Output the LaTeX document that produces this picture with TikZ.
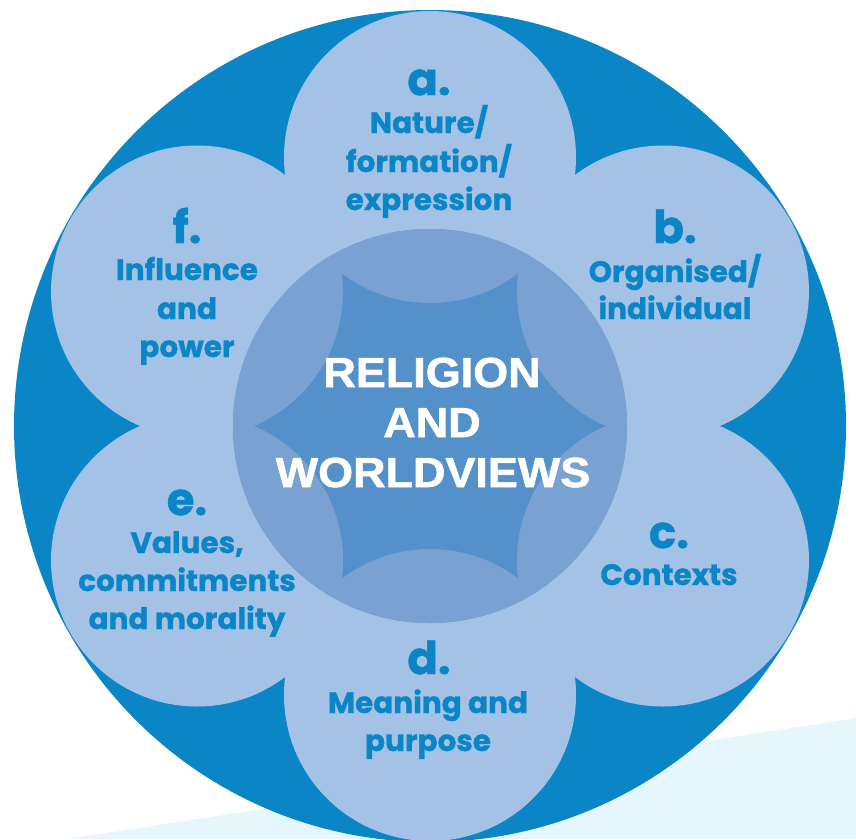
\documentclass[tikz,border=0pt]{standalone}
\usepackage{fontspec}
\newfontfamily\petalfont{Poppins}[UprightFont=* Bold, BoldFont=* Bold, FakeBold=1]
\newfontfamily\hubfont{Liberation Sans Bold}[FakeStretch=1.07, FakeBold=1.5]
\definecolor{ringblue}{HTML}{0A85C6}
\definecolor{petalblue}{HTML}{A3C2E5}
\definecolor{overlapblue}{HTML}{79A2D3}
\definecolor{starblue}{HTML}{5490C9}
\definecolor{paleblue}{HTML}{E6F6FD}
\tikzset{
  letterlbl/.style={anchor=base, inner sep=0pt, text=ringblue, font=\petalfont\fontsize{45}{45}\selectfont},
  petaltxt/.style={anchor=base, inner sep=0pt, text=ringblue, font=\petalfont\fontsize{29.5}{29.5}\selectfont},
  hubtxt/.style={anchor=base, inner sep=0pt, text=white, font=\hubfont\fontsize{42}{42}\selectfont},
}
\begin{document}
\begin{tikzpicture}[x=1pt,y=-1pt]
\useasboundingbox (0,0) rectangle (856,839);
\fill[paleblue] (67,839) -- (856,718) -- (856,839) -- cycle;
\coordinate (hub) at (430,426);
\fill[ringblue] (hub) circle[radius=416pt];
\foreach \k/\a in {a/90,b/30,c/-30,d/-90,e/-150,f/150}
  \coordinate (p\k) at ({430+269*cos(\a)},{426-269*sin(\a)});
\foreach \k in {a,b,c,d,e,f}
  \fill[petalblue] (p\k) circle[radius=146pt];
\fill[starblue] (hub) circle[radius=197pt];
\begin{scope}
  \clip (hub) circle[radius=197pt];
  \foreach \k in {a,b,c,d,e,f}
    \fill[overlapblue] (p\k) circle[radius=146pt];
\end{scope}
% centre
\node[hubtxt] (h1) at (432,387) {RELIGION};
\node[hubtxt] (h2) at (432,437) {AND};
\node[hubtxt] (h3) at (433,487) {WORLDVIEWS};
% a
\node[letterlbl] (la) at (429,95) {a.};
\node[petaltxt] (a1) at (429,133) {Nature/};
\node[petaltxt] (a2) at (429,172) {formation/};
\node[petaltxt] (a3) at (429,210) {expression};
% b
\node[letterlbl] (lb) at (675,243) {b.};
\node[petaltxt] (b1) at (675,282) {Organised/};
\node[petaltxt] (b2) at (675,319) {individual};
% c
\node[letterlbl] (lc) at (669,548) {c.};
\node[petaltxt] (c1) at (669,585) {Contexts};
% d
\node[letterlbl] (ld) at (429,674) {d.};
\node[petaltxt] (d1) at (428,713) {Meaning and};
\node[petaltxt] (d2) at (428,751) {purpose};
% e
\node[letterlbl] (le) at (187,515) {e.};
\node[petaltxt] (e1) at (187,553) {Values,};
\node[petaltxt] (e2) at (187,591) {commitments};
\node[petaltxt] (e3) at (187,629) {and morality};
% f
\node[letterlbl] (lf) at (187,243) {f.};
\node[petaltxt] (f1) at (187,280) {Influence};
\node[petaltxt] (f2) at (187,319) {and};
\node[petaltxt] (f3) at (187,357) {power};
\end{tikzpicture}
\end{document}
